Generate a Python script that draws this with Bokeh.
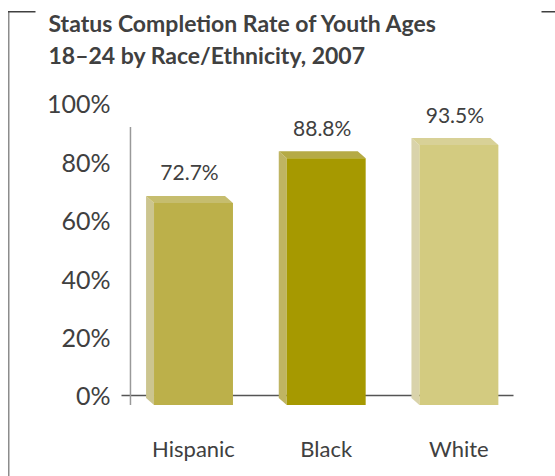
from bokeh.plotting import figure
from bokeh.models import Range1d, Label, BoxAnnotation, ColumnDataSource
from bokeh.core.properties import value
from bokeh.embed import file_html
from bokeh.resources import INLINE

# ---- data ----
categories = ["Hispanic", "Black", "White"]
rates = [72.7, 88.8, 93.5]
rate_labels = ["72.7%", "88.8%", "93.5%"]
front_colors = ["#BCB04A", "#A69900", "#D3CB80"]
top_colors = ["#C6BD6E", "#B5AA45", "#D8D197"]
side_colors = ["#CCC58F", "#BFB462", "#D9D3AB"]
y_ticks = [0, 20, 40, 60, 80, 100]
y_tick_labels = ["0%", "20%", "40%", "60%", "80%", "100%"]
title_lines = ["Status Completion Rate of Youth Ages", "18\u201324 by Race/Ethnicity, 2007"]

FONT = "Lato"
TXT = "#404040"

W, H = 555, 476
p = figure(width=W, height=H, output_backend="svg", toolbar_location=None, title=None,
           x_axis_location=None, y_axis_location=None,
           x_range=Range1d(-1.4544, 2.7280), y_range=Range1d(-27.74, 135.27),
           min_border=0)
p.extra_y_ranges = {"bars": Range1d(-25.72, 145.50)}
p.outline_line_color = None
p.grid.visible = False
p.background_fill_color = "white"
p.border_fill_color = "white"

xs_idx = list(range(len(categories)))

# y tick labels (value axis)
ysrc = ColumnDataSource(dict(x=[-0.5] * len(y_ticks), y=y_ticks, t=y_tick_labels))
p.text(x="x", y="y", text="t", source=ysrc, x_offset=-16.5, text_align="right",
       text_baseline="middle", text_font=value(FONT), text_font_size="25px", text_color=TXT)

# category labels
csrc = ColumnDataSource(dict(x=xs_idx, y=[0] * len(categories), t=categories))
p.text(x="x", y="y", text="t", source=csrc, y_offset=53, text_align="center",
       text_baseline="middle", text_font=value(FONT), text_font_size="22px", text_color=TXT)

# baseline at 0% (with the small tick at the left)
p.segment(x0=[-0.5426], y0=[0], x1=[2.4115], y1=[0], line_color="#555555", line_width=1.5)
# back-wall vertical axis line
p.segment(x0=[-0.475], y0=[0], x1=[-0.475], y1=[100], line_color="#999999",
          line_width=1.5, y_range_name="bars")

# 3D bars
bw = 0.595   # front face width
dx = 0.06    # depth offset (x)
dy = 2.5     # depth offset (y, in %)
front = ColumnDataSource(dict(left=[i - bw / 2 for i in xs_idx], right=[i + bw / 2 for i in xs_idx],
                              top=rates, bottom=[0] * len(rates), color=front_colors))
top_xs, top_ys, side_xs, side_ys = [], [], [], []
for i, v in zip(xs_idx, rates):
    l, r = i - bw / 2, i + bw / 2
    top_xs.append([l, r, r - dx, l - dx])
    top_ys.append([v, v, v + dy, v + dy])
    side_xs.append([l, l, l - dx, l - dx])
    side_ys.append([0, v, v + dy, dy])
p.patches(xs=side_xs, ys=side_ys, fill_color=side_colors, line_color=None, y_range_name="bars")
p.patches(xs=top_xs, ys=top_ys, fill_color=top_colors, line_color=None, y_range_name="bars")
p.quad(left="left", right="right", top="top", bottom="bottom", fill_color="color",
       line_color=None, source=front, y_range_name="bars")

# value labels
lab = ColumnDataSource(dict(x=[i - dx / 2 for i in xs_idx], y=[v + dy for v in rates], t=rate_labels))
p.text(x="x", y="y", text="t", source=lab, y_range_name="bars", text_align="center",
       text_baseline="middle", y_offset=-24, text_font=value(FONT), text_font_size="21px",
       text_color=TXT)

# title (two lines)
for k, line in enumerate(title_lines):
    p.add_layout(Label(x=48, y=22.7 + 31.3 * k, x_units="canvas", y_units="canvas", text=line,
                       text_font=FONT, text_font_style="bold", text_font_size="23px",
                       text_color=TXT, text_baseline="alphabetic"))

# decorative frame bracket
def bar_line(l, r, t, b, color):
    p.add_layout(BoxAnnotation(left=l, right=r, top=t, bottom=b, left_units="canvas",
                               right_units="canvas", top_units="canvas", bottom_units="canvas",
                               fill_color=color, fill_alpha=1, line_color=None))

bar_line(7.5, 9, 11, H, "#8c8c8c")
bar_line(7.5, 35, 10.5, 12, "#404040")
bar_line(541, W, 10.5, 12, "#404040")

open("out.html", "w").write(file_html(p, INLINE))
